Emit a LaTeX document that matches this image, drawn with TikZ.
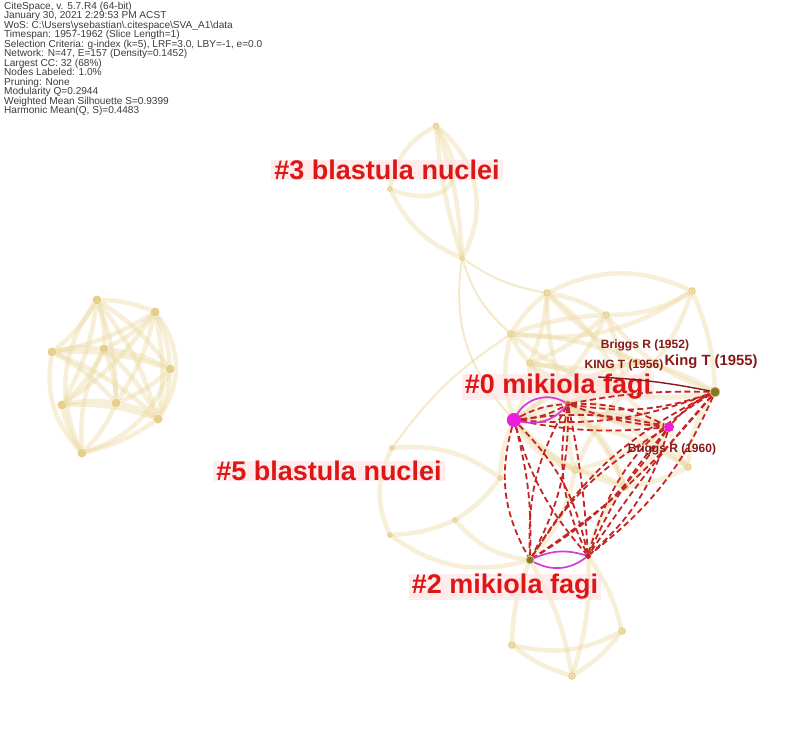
\documentclass[tikz,border=0pt]{standalone}
\usepackage{fontspec}
\setmainfont{Liberation Sans}
\definecolor{beigeE}{RGB}{238,220,168}
\definecolor{beigeD}{RGB}{232,205,150}
\definecolor{beigeN}{RGB}{228,202,128}
\definecolor{goldN}{RGB}{222,192,100}
\definecolor{redE}{RGB}{196,36,36}
\definecolor{lblred}{RGB}{222,22,22}
\definecolor{darkred}{RGB}{135,25,25}
\definecolor{magN}{RGB}{236,30,220}
\definecolor{magE}{RGB}{210,60,215}
\definecolor{oliveN}{RGB}{130,120,40}
\definecolor{pinkbg}{RGB}{255,228,228}
\definecolor{hdr}{RGB}{60,60,60}
\begin{document}
\begin{tikzpicture}[x=1pt,y=-1pt,
  bnode/.style={circle,inner sep=0pt,minimum size=7pt,fill=beigeN,fill opacity=0.7,draw=beigeN,draw opacity=0.9,line width=0.6pt},
  gnode/.style={circle,inner sep=0pt,minimum size=9pt,fill=goldN,fill opacity=0.75},
  bedge/.style={draw=beigeE,line width=4.5pt,draw opacity=0.45},
  dbedge/.style={draw=beigeD,line width=5pt,draw opacity=0.35},
  thinb/.style={draw=beigeE,line width=2pt,draw opacity=0.6},
  dedge/.style={draw=redE,line width=1.8pt,dash pattern=on 6pt off 3.5pt},
  medge/.style={draw=magE,line width=1.7pt},
  clabel/.style={font=\fontsize{27}{27}\selectfont\bfseries,text=lblred,fill=pinkbg,fill opacity=0.7,text opacity=1,inner xsep=3pt,inner ysep=0pt},
  slabel/.style={font=\fontsize{12}{12}\selectfont\bfseries,text=darkred,inner sep=0pt},
]
\useasboundingbox[fill=white] (0,0) rectangle (800,735);

% ---------- header ----------
\node[anchor=north west,align=left,inner sep=0pt,text=hdr,font=\fontsize{10.1}{9.45}\selectfont] (hdr) at (4,2) {CiteSpace, v. 5.7.R4 (64-bit)\\
January 30, 2021 2:29:53 PM ACST\\
WoS: C:\textbackslash Users\textbackslash ysebastian\textbackslash .citespace\textbackslash SVA\_A1\textbackslash data\\
Timespan: 1957-1962 (Slice Length=1)\\
Selection Criteria: g-index (k=5), LRF=3.0, LBY=-1, e=0.0\\
Network: N=47, E=157 (Density=0.1452)\\
Largest CC: 32 (68\%)\\
Nodes Labeled: 1.0\%\\
Pruning: None\\
Modularity Q=0.2944\\
Weighted Mean Silhouette S=0.9399\\
Harmonic Mean(Q, S)=0.4483};

% ---------- left cluster ----------
\node[gnode] (L1) at (97,300) {};
\node[gnode] (L2) at (155,312) {};
\node[gnode] (L3) at (52,352) {};
\node[gnode] (L4) at (104,349) {};
\node[gnode] (L5) at (170,369) {};
\node[gnode] (L6) at (62,405) {};
\node[gnode] (L7) at (116,403) {};
\node[gnode] (L8) at (158,419) {};
\node[gnode] (L9) at (82,453) {};
\foreach \a/\b in {L1/L2,L1/L3,L1/L4,L1/L5,L1/L7,L2/L4,L2/L5,L2/L3,L3/L4,L3/L5,L4/L5,L4/L7,L4/L6,L4/L8,L5/L7,L5/L8,L6/L7,L7/L8,L7/L9,L8/L9,L2/L7,L1/L8,L3/L7,L6/L8,L2/L8,L3/L8,L1/L6,L2/L6}
  \draw[bedge] (\a) to[bend left=10] (\b);
\draw[bedge] (L3) to[bend right=25] (L9);
\draw[bedge] (L6) to[bend right=10] (L9);
\draw[bedge] (L5) to[bend left=25] (L9);
\draw[bedge] (L4) to[bend right=15] (L9);
\draw[bedge] (L1) to[bend right=30] (L9);
\draw[bedge] (L2) to[bend left=35] (L8);

% ---------- cluster #3 ----------
\node[bnode,minimum size=6pt] (S1) at (436,126) {};
\node[bnode,minimum size=5pt] (S2) at (462,258) {};
\node[bnode,minimum size=5pt] (S3) at (390,189) {};
\draw[bedge] (S1) to[bend left=40] (S2);
\draw[bedge] (S1) to[bend left=8] (S2);
\draw[bedge] (S1) to[bend right=6] (S2);
\draw[bedge] (S1) to[bend right=25] (S3);
\draw[bedge] (S3) to[bend right=20] (S2);
\draw[bedge] (S3) .. controls (430,205) and (480,195) .. (S1);

% ---------- cluster #0 (beige part) ----------
\node[bnode] (T1) at (547,293) {};
\node[bnode] (T2) at (606,315) {};
\node[bnode] (T3) at (511,334) {};
\node[bnode] (T4) at (530,363) {};
\node[bnode] (T5) at (692,291) {};
\node[bnode] (T6) at (637,362) {};
\node[bnode] (T7) at (623,393) {};
\node[bnode] (T8) at (688,467) {};
\node[bnode] (T9) at (625,487) {};
\node[bnode] (T10) at (575,470) {};

% ---------- cluster #5 ----------
\node[bnode,minimum size=5pt] (F1) at (392,448) {};
\node[bnode,minimum size=5pt] (F2) at (390,535) {};
\node[bnode,minimum size=5pt] (F3) at (455,520) {};
\node[bnode,minimum size=5pt] (F4) at (500,478) {};

% ---------- cluster #2 (beige part) ----------
\node[bnode] (B1) at (512,645) {};
\node[bnode] (B2) at (622,631) {};
\node[bnode] (B3) at (572,676) {};

% ---------- key nodes ----------
\node[circle,inner sep=0pt,minimum size=14pt,fill=magN] (A) at (514,420) {};
\node[circle,inner sep=0pt,minimum size=6pt,fill=redE] (B) at (568,404) {};
\node[circle,inner sep=0pt,minimum size=10pt,fill=magN] (E) at (669,427) {};
\node[circle,inner sep=0pt,minimum size=10pt,fill=oliveN,draw=beigeN,line width=0.8pt] (F) at (715,392) {};
\node[circle,inner sep=0pt,minimum size=8pt,fill=oliveN,draw=beigeN,line width=0.8pt] (C) at (530,560) {};
\node[circle,inner sep=0pt,minimum size=6pt,fill=redE] (D) at (588,556) {};
\coordinate (K56) at (598,377);

% beige edges #0
\foreach \a/\b/\c in {T1/T2/10,T1/T3/-10,T1/T4/8,T2/T3/-8,T2/T4/10,T2/T5/-15,T3/T4/-10,T3/A/-15,T4/A/10,T4/B/-10,T2/T7/10,T2/F/-15,T5/F/10,T6/B/10,T7/E/-10,T8/E/10,T9/E/-10,T8/F/15,T9/A/15,T9/B/-10,T3/T7/-10,T1/T7/15,T1/B/-10,T2/A/15,T6/F/10,T6/A/-10,T10/A/10,T10/E/-10,T10/T9/10,T7/F/-10,T5/T7/15,T4/T6/-10,T8/T9/10,T10/B/10,T8/A/-15,T1/T6/-10,T3/T6/10,T4/T7/8}
  \draw[bedge] (\a) to[bend left=\c] (\b);
\foreach \a/\b/\c in {A/E/12,B/E/-10,A/T7/8,B/T8/10,T4/E/-12,T10/T7/8,A/T10/-20,B/T9/15}
  \draw[dbedge] (\a) to[bend left=\c] (\b);
\draw[bedge] (T1) to[bend left=25] (T5);
\draw[bedge] (T3) to[bend right=20] (T5);
\draw[thinb] (S2) to[bend right=12] (T1);
\draw[thinb] (S2) to[bend right=15] (T3);
\draw[thinb] (S2) to[bend right=25] (A);
% beige edges #5
\draw[bedge] (F1) to[bend right=25] (F2);
\draw[bedge] (F2) to[bend right=10] (F3);
\draw[bedge] (F1) to[bend left=20] (F4);
\draw[bedge] (F3) to[bend right=10] (F4);
\draw[bedge] (F3) to[bend right=20] (C);
\draw[bedge] (F2) to[bend right=25] (C);
\draw[bedge] (F4) to[bend left=10] (A);
\draw[thinb] (F1) to[bend left=10] (T3);
% beige edges #2
\draw[bedge] (C) to[bend right=10] (B1);
\draw[bedge] (C) to[bend left=10] (B3);
\draw[bedge] (D) to[bend left=10] (B3);
\draw[bedge] (D) to[bend left=10] (B2);
\draw[bedge] (B1) to[bend right=10] (B3);
\draw[bedge] (B1) to[bend right=20] (B2);
\draw[bedge] (B3) to[bend right=10] (B2);
\draw[bedge] (D) to[bend left=15] (T9);
\draw[bedge] (C) to[bend right=15] (T10);

% ---------- cluster labels ----------
\node[clabel] (l3) at (387,170) {\#3 blastula nuclei};
\node[clabel] (l0) at (558,387) {\#0 mikiola fagi};
\node[clabel] (l5) at (329,471) {\#5 blastula nuclei};
\node[clabel] (l2) at (505,587) {\#2 mikiola fagi};

% ---------- red dashed edges ----------
\foreach \a/\b/\c in {A/B/12,A/B/-12,A/E/10,A/E/-8,A/F/-12,B/E/14,B/E/-8,B/F/-14,B/F/6,E/F/12,A/C/-22,A/C/8,A/D/16,A/D/-12,B/C/14,B/C/-16,B/D/4,B/D/-18,E/C/12,E/D/16,E/D/-8,F/C/8,F/D/14,F/D/-4,F/D/-22,E/C/-14,F/C/-16}
  \draw[dedge] (\a) to[bend left=\c] (\b);
\draw[medge] (A) to[bend left=45] (B);
\draw[medge] (A) to[bend right=30] (B);
\draw[medge] (C) to[bend left=20] (D);
\draw[medge] (C) to[bend right=32] (D);
\draw[draw=darkred,line width=1.4pt] (K56) to[bend left=4] (F);
\fill[magN] (A) circle (7pt);
\fill[magN] (E) circle (4.5pt);

% ---------- small labels ----------
\node[slabel] (lb52) at (645,345) {Briggs R (1952)};
\node[slabel] (lk56) at (624,365) {KING T (1956)};
\node[slabel,font=\fontsize{14.8}{15}\selectfont\bfseries] (lk55) at (711,362) {King T (1955)};
\node[slabel] (lb60) at (672,449) {Briggs R (1960)};
\end{tikzpicture}
\end{document}
